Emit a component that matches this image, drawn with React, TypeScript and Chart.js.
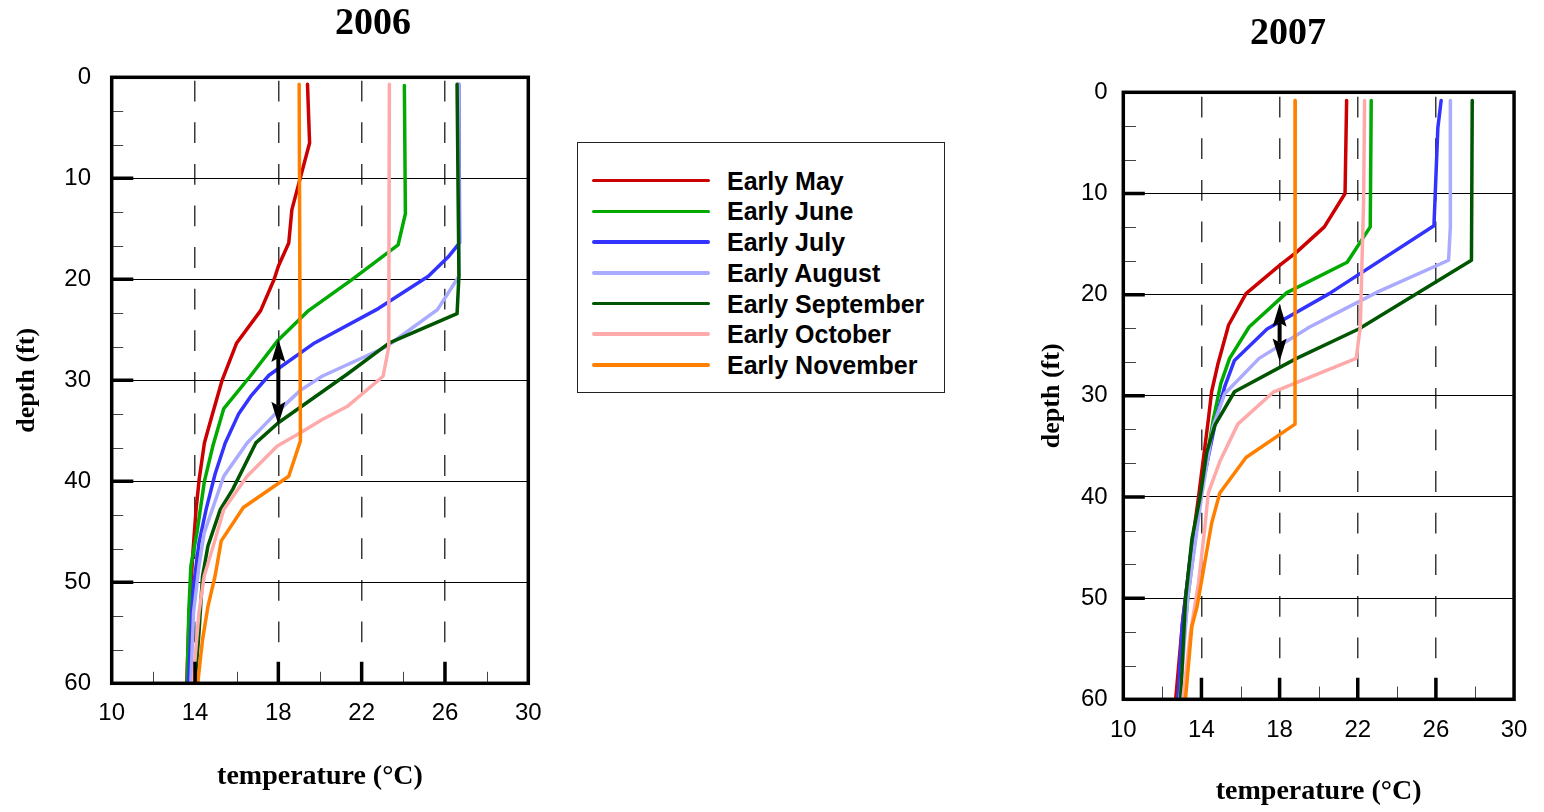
import React, { useEffect, useRef } from 'react';
import { Chart, registerables } from 'chart.js';

Chart.register(...registerables);

// ---------- labels / ticks ----------
const seriesLabels = ['Early May', 'Early June', 'Early July', 'Early August', 'Early September', 'Early October', 'Early November'];
const seriesColors = ['#cc0000', '#00aa00', '#3333ff', '#aaaaff', '#005500', '#ffaaaa', '#ff8000'];
const tempTicks = [10, 14, 18, 22, 26, 30];
const depthTicks = [0, 10, 20, 30, 40, 50, 60];
const xMajorTicks = [14, 18, 22, 26];
const xMinorTicks = [12, 16, 20, 24, 28];
const yMajorTicks = [10, 20, 30, 40, 50];
const yMinorTicks = [3.33, 6.67, 13.33, 16.67, 23.33, 26.67, 33.33, 36.67, 43.33, 46.67, 53.33, 56.67];
const arrowTemp = 18;
const arrow2006Depth = [25.9, 34.4];
const arrow2007Depth = [20.9, 26.6];

// ---------- 2006 ----------
const may2006Depth = [0.7, 6.5, 13.1, 16.4, 18.7, 20.0, 23.1, 26.3, 30.0, 33.6, 36.2, 39.8, 42.8, 47.0, 53.0, 60.0];
const may2006Temp = [19.4, 19.5, 18.65, 18.5, 18.0, 17.8, 17.15, 16.0, 15.3, 14.8, 14.45, 14.2, 14.05, 13.9, 13.72, 13.6];
const jun2006Depth = [0.8, 13.5, 16.6, 20.0, 23.1, 26.0, 29.6, 32.8, 36.4, 40.0, 45.0, 48.4, 53.0, 60.0];
const jun2006Temp = [24.05, 24.1, 23.75, 21.55, 19.45, 18.0, 16.65, 15.38, 14.87, 14.45, 14.1, 13.8, 13.7, 13.62];
const jul2006Depth = [0.7, 16.4, 17.8, 19.7, 22.9, 26.3, 29.5, 31.6, 33.3, 36.2, 39.3, 42.8, 46.1, 50.4, 53.0, 60.0];
const jul2006Temp = [26.67, 26.7, 26.15, 25.2, 22.8, 19.74, 17.55, 16.67, 16.1, 15.45, 14.96, 14.53, 14.19, 13.93, 13.85, 13.68];
const aug2006Depth = [0.7, 19.7, 23.0, 26.7, 29.6, 31.0, 33.3, 36.2, 39.5, 45.1, 48.4, 53.0, 60.0];
const aug2006Temp = [26.63, 26.67, 25.64, 23.16, 20.1, 19.06, 17.86, 16.5, 15.38, 14.44, 14.19, 13.93, 13.8];
const sep2006Depth = [0.7, 19.7, 23.4, 26.3, 29.4, 34.2, 36.2, 40.8, 42.8, 46.4, 49.4, 55.0, 60.0];
const sep2006Temp = [26.58, 26.67, 26.58, 23.33, 21.3, 18.0, 16.92, 15.81, 15.21, 14.62, 14.36, 14.19, 14.0];
const oct2006Depth = [0.7, 26.7, 29.6, 32.6, 33.9, 35.2, 36.5, 39.5, 42.8, 45.8, 49.4, 53.0, 60.0];
const oct2006Temp = [23.33, 23.3, 23.03, 21.3, 20.09, 19.06, 17.95, 16.5, 15.38, 14.96, 14.44, 14.19, 13.9];
const nov2006Depth = [0.7, 36.0, 39.5, 42.6, 45.9, 49.4, 52.4, 55.7, 60.0];
const nov2006Temp = [19.0, 19.06, 18.5, 16.32, 15.26, 14.96, 14.62, 14.36, 14.13];

// ---------- 2007 ----------
const may2007Depth = [0.8, 10.0, 13.3, 15.8, 17.1, 19.9, 23.0, 26.8, 29.6, 32.4, 40.0, 45.0, 52.0, 60.0];
const may2007Temp = [21.43, 21.35, 20.29, 18.87, 18.0, 16.28, 15.39, 14.85, 14.52, 14.35, 13.85, 13.5, 13.05, 12.68];
const jun2007Depth = [0.8, 13.3, 16.8, 19.8, 23.2, 26.3, 28.8, 32.4, 40.0, 50.0, 60.0];
const jun2007Temp = [22.69, 22.64, 21.46, 18.37, 16.44, 15.44, 14.99, 14.6, 13.95, 13.3, 12.8];
const jul2007Depth = [0.8, 3.5, 13.2, 19.9, 23.4, 26.5, 29.1, 32.1, 40.0, 45.9, 52.8, 60.0];
const jul2007Temp = [26.27, 26.1, 25.9, 20.54, 17.36, 15.69, 15.19, 14.77, 13.93, 13.43, 13.01, 12.8];
const aug2007Depth = [0.8, 13.3, 16.6, 19.7, 23.2, 26.3, 29.8, 33.0, 40.0, 50.0, 60.0];
const aug2007Temp = [26.74, 26.74, 26.65, 23.05, 19.54, 16.95, 15.19, 14.6, 14.0, 13.3, 12.9];
const sep2007Depth = [0.8, 16.6, 23.4, 26.3, 29.6, 32.9, 35.6, 40.0, 44.2, 50.2, 60.0];
const sep2007Temp = [27.86, 27.82, 22.05, 18.87, 15.69, 14.69, 14.27, 13.93, 13.51, 13.18, 12.93];
const oct2007Depth = [0.8, 10.7, 23.2, 26.3, 29.6, 32.8, 36.5, 39.6, 42.9, 48.5, 53.5, 60.0];
const oct2007Temp = [22.35, 22.3, 22.13, 21.92, 17.7, 15.86, 14.94, 14.35, 14.18, 13.85, 13.43, 13.05];
const nov2007Depth = [0.8, 32.8, 36.1, 39.6, 42.6, 50.8, 52.8, 60.0];
const nov2007Temp = [18.8, 18.79, 16.28, 14.94, 14.52, 13.78, 13.51, 13.18];

type Profile = { temp: number[]; depth: number[] };

const profiles2006: Profile[] = [
  { temp: may2006Temp, depth: may2006Depth },
  { temp: jun2006Temp, depth: jun2006Depth },
  { temp: jul2006Temp, depth: jul2006Depth },
  { temp: aug2006Temp, depth: aug2006Depth },
  { temp: sep2006Temp, depth: sep2006Depth },
  { temp: oct2006Temp, depth: oct2006Depth },
  { temp: nov2006Temp, depth: nov2006Depth },
];
const profiles2007: Profile[] = [
  { temp: may2007Temp, depth: may2007Depth },
  { temp: jun2007Temp, depth: jun2007Depth },
  { temp: jul2007Temp, depth: jul2007Depth },
  { temp: aug2007Temp, depth: aug2007Depth },
  { temp: sep2007Temp, depth: sep2007Depth },
  { temp: oct2007Temp, depth: oct2007Depth },
  { temp: nov2007Temp, depth: nov2007Depth },
];

type Layout = {
  left: number;
  width: number;
  padTop: number;
  padRight: number;
  yWidth: number;
  xHeight: number;
  yLabelPad: number;
  xLabelPad: number;
  yTitlePad: number;
  xTitlePad: number;
  dashOffset: number;
  minorLen: number;
  majorLen: number;
};

const HEIGHT = 812;
const SANS = "'Liberation Sans', Arial, sans-serif";
const SERIF = "'Liberation Serif', 'Times New Roman', serif";

function makeFramePlugin(L: Layout, arrowDepth: number[]) {
  return {
    id: 'frameTicksArrow',
    afterDatasetsDraw(chart: any) {
      const { ctx, chartArea: a, scales } = chart;
      const xs = scales.x;
      const ys = scales.y;
      ctx.save();
      // minor ticks
      ctx.strokeStyle = '#444';
      ctx.lineWidth = 1;
      ctx.beginPath();
      for (const d of yMinorTicks) {
        const py = Math.round(ys.getPixelForValue(d)) + 0.5;
        ctx.moveTo(a.left, py);
        ctx.lineTo(a.left + L.minorLen, py);
      }
      for (const t of xMinorTicks) {
        const px = Math.round(xs.getPixelForValue(t)) + 0.5;
        ctx.moveTo(px, a.bottom);
        ctx.lineTo(px, a.bottom - L.minorLen);
      }
      ctx.stroke();
      // major ticks
      ctx.strokeStyle = '#000';
      ctx.lineWidth = 3.5;
      ctx.beginPath();
      for (const d of yMajorTicks) {
        const py = ys.getPixelForValue(d);
        ctx.moveTo(a.left, py);
        ctx.lineTo(a.left + L.majorLen, py);
      }
      for (const t of xMajorTicks) {
        const px = xs.getPixelForValue(t);
        ctx.moveTo(px, a.bottom);
        ctx.lineTo(px, a.bottom - L.majorLen);
      }
      ctx.stroke();
      // double-headed arrow
      const ax = xs.getPixelForValue(arrowTemp);
      const yTop = ys.getPixelForValue(arrowDepth[0]);
      const yBot = ys.getPixelForValue(arrowDepth[1]);
      const headLen = 23;
      const half = 7;
      const notch = 4;
      ctx.fillStyle = '#000';
      ctx.lineWidth = 4;
      ctx.beginPath();
      ctx.moveTo(ax, yTop + headLen - notch);
      ctx.lineTo(ax, yBot - headLen + notch);
      ctx.stroke();
      ctx.beginPath();
      ctx.moveTo(ax, yTop);
      ctx.lineTo(ax + half, yTop + headLen);
      ctx.lineTo(ax, yTop + headLen - notch);
      ctx.lineTo(ax - half, yTop + headLen);
      ctx.closePath();
      ctx.fill();
      ctx.beginPath();
      ctx.moveTo(ax, yBot);
      ctx.lineTo(ax + half, yBot - headLen);
      ctx.lineTo(ax, yBot - headLen + notch);
      ctx.lineTo(ax - half, yBot - headLen);
      ctx.closePath();
      ctx.fill();
      // frame
      ctx.lineWidth = 3.5;
      ctx.strokeStyle = '#000';
      ctx.strokeRect(a.left, a.top, a.right - a.left, a.bottom - a.top);
      ctx.restore();
    },
  };
}

function ProfileChart({ L, profiles, arrowDepth }: { L: Layout; profiles: Profile[]; arrowDepth: number[] }) {
  const ref = useRef<HTMLCanvasElement>(null);
  useEffect(() => {
    const datasets = profiles.map((p, i) => ({
      label: seriesLabels[i],
      data: p.temp.map((t, k) => ({ x: t, y: p.depth[k] })),
      borderColor: seriesColors[i],
      backgroundColor: seriesColors[i],
      borderWidth: 3.5,
      pointRadius: 0,
      pointHoverRadius: 0,
      showLine: true,
      tension: 0,
      borderJoinStyle: 'round' as const,
      borderCapStyle: 'round' as const,
      fill: false,
      order: profiles.length - 1 - i,
    }));
    const chart = new Chart(ref.current as HTMLCanvasElement, {
      type: 'scatter',
      data: { datasets },
      options: {
        animation: false,
        responsive: false,
        events: [],
        layout: { padding: { left: 0, top: L.padTop, right: L.padRight, bottom: 0 } },
        plugins: {
          legend: { display: false },
          tooltip: { enabled: false },
          title: { display: false },
        },
        scales: {
          x: {
            type: 'linear',
            position: 'bottom',
            min: 10,
            max: 30,
            afterBuildTicks: (s: any) => {
              s.ticks = tempTicks.map((v) => ({ value: v }));
            },
            afterFit: (s: any) => {
              s.height = L.xHeight;
            },
            grid: { color: '#3a3a3a', lineWidth: 1.5, drawTicks: false },
            border: { display: false, dash: [20.8, 20.8], dashOffset: L.dashOffset },
            ticks: {
              padding: L.xLabelPad,
              color: '#000',
              font: { family: SANS, size: 24 },
              maxRotation: 0,
              autoSkip: false,
            },
            title: {
              display: true,
              text: 'temperature (°C)',
              color: '#000',
              font: { family: SERIF, size: 28, weight: 'bold' },
              padding: { top: 0, bottom: L.xTitlePad },
            },
          },
          y: {
            type: 'linear',
            position: 'left',
            reverse: true,
            min: 0,
            max: 60,
            afterBuildTicks: (s: any) => {
              s.ticks = depthTicks.map((v) => ({ value: v }));
            },
            afterFit: (s: any) => {
              s.width = L.yWidth;
            },
            grid: { color: '#000', lineWidth: 1, drawTicks: false },
            border: { display: false },
            ticks: {
              padding: L.yLabelPad,
              color: '#000',
              font: { family: SANS, size: 24 },
              autoSkip: false,
            },
            title: {
              display: true,
              text: 'depth (ft)',
              color: '#000',
              font: { family: SERIF, size: 26, weight: 'bold' },
              padding: { top: L.yTitlePad, bottom: 0 },
            },
          },
        },
      } as any,
      plugins: [makeFramePlugin(L, arrowDepth)],
    });
    return () => chart.destroy();
  }, []);
  return (
    <canvas
      ref={ref}
      width={L.width}
      height={HEIGHT}
      style={{ position: 'absolute', left: L.left, top: 0, width: L.width, height: HEIGHT }}
    />
  );
}

const layout2006: Layout = {
  left: 0,
  width: 570,
  padTop: 77.3,
  padRight: 41.7,
  yWidth: 111.7,
  xHeight: 128.7,
  yLabelPad: 20.7,
  xLabelPad: 15.6,
  yTitlePad: 11.6,
  xTitlePad: 18,
  dashOffset: -3.4,
  minorLen: 11.5,
  majorLen: 21.6,
};

const layout2007: Layout = {
  left: 1000,
  width: 544,
  padTop: 92.3,
  padRight: 22.3,
  yWidth: 123.3,
  xHeight: 112.7,
  yLabelPad: 15.6,
  xLabelPad: 16.6,
  yTitlePad: 36.6,
  xTitlePad: 3,
  dashOffset: -4.4,
  minorLen: 12.7,
  majorLen: 21.5,
};

function Legend() {
  return (
    <div
      style={{
        position: 'absolute',
        left: 577,
        top: 141.5,
        width: 368,
        height: 251,
        border: '1px solid #222',
        boxSizing: 'border-box',
        background: '#fff',
      }}
    >
      {seriesLabels.map((lab, i) => (
        <div key={lab} style={{ position: 'absolute', left: 0, top: 38.2 + i * 30.7 - 15, width: '100%', height: 30 }}>
          <div
            style={{
              position: 'absolute',
              left: 14,
              top: 13.2,
              width: 118,
              height: 3.6,
              borderRadius: 2,
              background: seriesColors[i],
            }}
          />
          <div
            style={{
              position: 'absolute',
              left: 149,
              top: 0,
              lineHeight: '30px',
              fontFamily: SANS,
              fontWeight: 'bold',
              fontSize: 25,
              color: '#000',
              whiteSpace: 'nowrap',
            }}
          >
            {lab}
          </div>
        </div>
      ))}
    </div>
  );
}

function YearTitle({ text, cx, top }: { text: string; cx: number; top: number }) {
  return (
    <div
      style={{
        position: 'absolute',
        left: cx - 100,
        top,
        width: 200,
        textAlign: 'center',
        fontFamily: SERIF,
        fontWeight: 'bold',
        fontSize: 38,
        lineHeight: '38px',
        color: '#000',
      }}
    >
      {text}
    </div>
  );
}

export default function App() {
  return (
    <div style={{ position: 'fixed', left: 0, top: 0, width: 1544, height: 812, background: '#fff', overflow: 'hidden' }}>
      <ProfileChart L={layout2006} profiles={profiles2006} arrowDepth={arrow2006Depth} />
      <ProfileChart L={layout2007} profiles={profiles2007} arrowDepth={arrow2007Depth} />
      <Legend />
      <YearTitle text="2006" cx={373} top={1.5} />
      <YearTitle text="2007" cx={1288} top={11.5} />
    </div>
  );
}
